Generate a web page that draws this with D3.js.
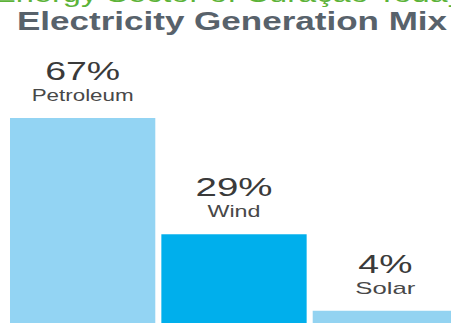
<!DOCTYPE html>
<html>
<head>
<meta charset="utf-8">
<script src="https://cdn.jsdelivr.net/npm/d3@7"></script>
<style>
  html, body { margin: 0; padding: 0; background: #ffffff; }
  svg { display: block; }
  text { font-family: "Liberation Sans", Arial, Helvetica, sans-serif; }
</style>
</head>
<body>
<div id="chart"></div>
<script>
// Share of electricity generation by source
const categories = ["Petroleum", "Wind", "Solar"];
const shares = [67, 29, 4];
const valueLabels = ["67%", "29%", "4%"];
const barColors = ["#93d4f3", "#00afec", "#93d3f1"];

const W = 451, H = 325;
const svg = d3.select("#chart").append("svg")
  .attr("width", W).attr("height", H);

// Section heading, mostly above the frame
svg.append("text")
  .attr("x", -6).attr("y", 2)
  .attr("font-size", 24)
  .attr("fill", "#5cb338")
  .attr("textLength", 470)
  .attr("lengthAdjust", "spacingAndGlyphs")
  .text("Energy Sector of Curaçao Today");

// Chart title
svg.append("text")
  .attr("x", 17).attr("y", 30)
  .attr("font-size", 26)
  .attr("font-weight", "bold")
  .attr("fill", "#58626b")
  .attr("textLength", 430)
  .attr("lengthAdjust", "spacingAndGlyphs")
  .text("Electricity Generation Mix");

const x = d3.scaleBand()
  .domain(categories)
  .range([10, 458])
  .paddingInner(0.04);

const y = d3.scaleLinear()
  .domain([0, d3.max(shares)])
  .range([323, 118]);

const data = categories.map((c, i) => ({
  name: c, value: shares[i], label: valueLabels[i], color: barColors[i]
}));

svg.append("g").selectAll("rect")
  .data(data)
  .join("rect")
  .attr("x", d => x(d.name))
  .attr("y", d => y(d.value))
  .attr("width", x.bandwidth())
  .attr("height", d => y(0) - y(d.value))
  .attr("fill", d => d.color);

// Value and name above each bar (glyphs drawn wide, as in the print layout)
const valueWidth = { "67%": 75, "29%": 77, "4%": 54 };
const nameWidth = { "Petroleum": 102, "Wind": 53, "Solar": 60 };

const labels = svg.append("g").selectAll("g")
  .data(data)
  .join("g")
  .attr("transform", d => `translate(${x(d.name) + x.bandwidth() / 2},${y(d.value)})`);

labels.append("text")
  .attr("text-anchor", "middle")
  .attr("y", -38)
  .attr("font-size", 26)
  .attr("fill", "#3a3a3a")
  .attr("textLength", d => valueWidth[d.label])
  .attr("lengthAdjust", "spacingAndGlyphs")
  .text(d => d.label);

labels.append("text")
  .attr("text-anchor", "middle")
  .attr("y", -17)
  .attr("font-size", 17)
  .attr("fill", "#484848")
  .attr("textLength", d => nameWidth[d.name])
  .attr("lengthAdjust", "spacingAndGlyphs")
  .text(d => d.name);
</script>
</body>
</html>
